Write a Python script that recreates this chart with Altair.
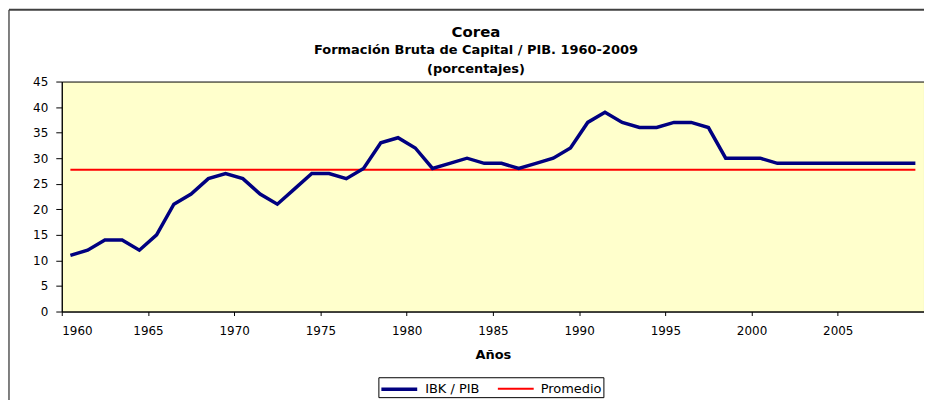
import altair as alt
import pandas as pd

# ---- data ----
years = list(range(1960, 2010))
ibk_pib = [11, 12, 14, 14, 12, 15, 21, 23, 26, 27,
           26, 23, 21, 24, 27, 27, 26, 28, 33, 34,
           32, 28, 29, 30, 29, 29, 28, 29, 30, 32,
           37, 39, 37, 36, 36, 37, 37, 36, 30, 30,
           30, 29, 29, 29, 29, 29, 29, 29, 29, 29]
series_names = ["IBK / PIB", "Promedio"]
series_colors = ["#000080", "#FF0000"]
series_widths = [3.5, 2]
x_tick_values = list(range(1960, 2011, 5))
y_tick_values = list(range(0, 46, 5))

FONT = "DejaVu Sans"
W, H = 866, 231

df = pd.DataFrame({"year": years, "value": ibk_pib})

x_enc = alt.X(
    "xpos:Q",
    scale=alt.Scale(domain=[1960, 2010], nice=False, zero=False),
    axis=alt.Axis(
        values=x_tick_values,
        format="d",
        labelExpr="datum.value >= 2010 ? '' : datum.label",
        title="Años",
        grid=False,
        tickSize=4,
        labelPadding=10,
        titlePadding=12,
    ),
)
y_enc = alt.Y(
    "y:Q",
    scale=alt.Scale(domain=[0, 45], nice=False),
    axis=alt.Axis(values=y_tick_values, title=None, grid=False, tickSize=6, labelPadding=8),
)
color_enc = alt.Color(
    "series:N",
    scale=alt.Scale(domain=series_names, range=series_colors),
    legend=alt.Legend(
        title=None,
        orient="none",
        legendX=318,
        legendY=297,
        direction="horizontal",
        symbolType="M-2,0H2",
        symbolSize=324,
        symbolStrokeWidth=3,
        symbolOffset=9,
        labelOffset=15,
        columnPadding=14,
        padding=1,
        strokeColor="black",
        fillColor="white",
        labelFont=FONT,
        labelFontSize=13,
        labelColor="black",
    ),
)
width_enc = alt.StrokeWidth(
    "series:N", scale=alt.Scale(domain=series_names, range=series_widths), legend=None
)

ibk_line = (
    alt.Chart(df)
    .transform_calculate(xpos="datum.year + 0.5", y="datum.value", series="'IBK / PIB'")
    .mark_line()
    .encode(x=x_enc, y=y_enc, color=color_enc, strokeWidth=width_enc)
)

avg_line = (
    alt.Chart(df)
    .transform_joinaggregate(avg="mean(value)")
    .transform_calculate(xpos="datum.year + 0.5", y="datum.avg", series="'Promedio'")
    .mark_line()
    .encode(x=x_enc, y=y_enc, color=color_enc, strokeWidth=width_enc)
)

frame_df = pd.DataFrame({"k": [0]})
frame_left = alt.Chart(frame_df).mark_rule(color="black", strokeWidth=1).encode(
    x=alt.value(-53), y=alt.value(-72), y2=alt.value(H + 95)
)
frame_top = alt.Chart(frame_df).mark_rule(color="#404040", strokeWidth=2).encode(
    x=alt.value(-53), x2=alt.value(W + 20), y=alt.value(-72)
)

chart = (
    alt.layer(frame_left, frame_top, avg_line, ibk_line)
    .properties(
        width=W,
        height=H,
        autosize=alt.AutoSizeParams(type="none"),
        padding={"left": 54, "top": 73, "right": 0, "bottom": 88},
        background="white",
        title=alt.TitleParams(
            text="Corea",
            subtitle=["Formación Bruta de Capital / PIB. 1960-2009", "(porcentajes)"],
            font=FONT,
            fontSize=15,
            fontWeight="bold",
            color="black",
            subtitleFont=FONT,
            subtitleFontSize=13,
            subtitleFontWeight="bold",
            subtitleColor="black",
            subtitleLineHeight=19,
            subtitlePadding=4,
            anchor="middle",
            dx=-17,
            offset=-67,
        ),
    )
    .configure_view(fill="#FFFFCC", stroke="black", strokeWidth=1)
    .configure_axis(
        labelFont=FONT,
        labelFontSize=12,
        labelColor="black",
        titleFont=FONT,
        titleFontSize=13,
        titleFontWeight="bold",
        titleColor="black",
        domainColor="black",
        tickColor="black",
    )
)

chart.save("out.html", embed_options={"renderer": "svg", "actions": False})
